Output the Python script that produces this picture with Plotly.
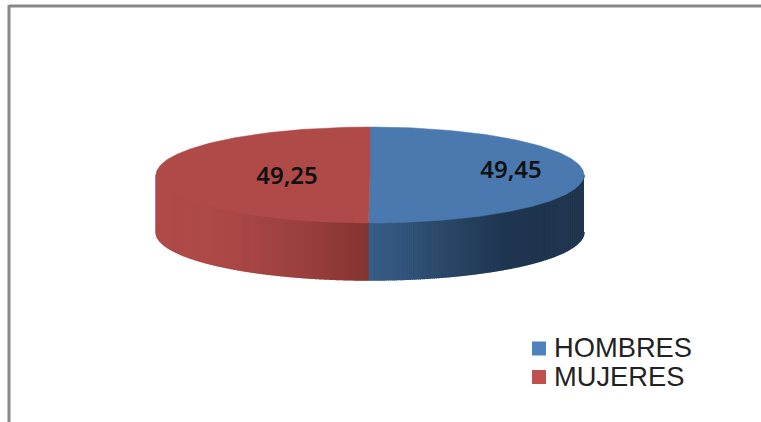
import numpy as np
import plotly.graph_objects as go

categories = ["HOMBRES", "MUJERES"]
values = [49.45, 49.25]
value_labels = ["49,45", "49,25"]
top_colors = ["#4A79AF", "#AF4A48"]
legend_colors = ["#4F81BD", "#C0504D"]
label_x = [511, 287]
label_y = [172, 178]
legend_marker_x = 539
legend_marker_y = [348.5, 377]
legend_text_x = 554
legend_text_y = [350, 379]

W, H = 761, 422
CX, CY, RX, RY, DEPTH = 370, 175, 214, 48, 57

# side shading: (x position, rgb)
side_stops = [
    [(370, (56, 94, 136)), (440, (42, 72, 105)), (510, (31, 53, 80)), (585, (31, 53, 78))],
    [(156, (175, 74, 72)), (225, (172, 72, 70)), (300, (155, 65, 62)), (370, (132, 52, 50))],
]


def px(theta):
    return CX + RX * np.sin(theta)


def py(theta):
    return CY - RY * np.cos(theta)


def shade(stops, x):
    xs = [s[0] for s in stops]
    return "rgb(%d,%d,%d)" % tuple(
        int(round(np.interp(x, xs, [s[1][c] for s in stops]))) for c in range(3)
    )


fig = go.Figure()
total = sum(values)
edges = np.concatenate([[0], np.cumsum(values)]) / total * 2 * np.pi

# visible rim of each wedge, cut into equal-width strips
for i in range(len(values)):
    a0 = max(edges[i], np.pi / 2)
    a1 = min(edges[i + 1], 3 * np.pi / 2)
    x0, x1 = px(a0), px(a1)
    n = int(abs(x1 - x0) / 2)
    cuts = np.pi - np.arcsin(np.clip((np.linspace(x0, x1, n + 1) - CX) / RX, -1, 1))
    cuts[0], cuts[-1] = a0, a1
    for t0, t1 in zip(cuts[:-1], cuts[1:]):
        th = np.linspace(t0, t1, 6)
        xs = np.concatenate([px(th), px(th[::-1])])
        ys = np.concatenate([py(th), py(th[::-1]) + DEPTH])
        col = shade(side_stops[i], float(px((t0 + t1) / 2)))
        fig.add_trace(go.Scatter(x=xs, y=ys, mode="lines", fill="toself", fillcolor=col,
                                 line=dict(color=col, width=1.5, simplify=False), hoverinfo="skip",
                                 showlegend=False))

# top face of each wedge
for i in range(len(values)):
    th = np.linspace(edges[i], edges[i + 1], 200)
    xs = np.concatenate([[CX], px(th), [CX]])
    ys = np.concatenate([[CY], py(th), [CY]])
    fig.add_trace(go.Scatter(x=xs, y=ys, mode="lines", fill="toself", fillcolor=top_colors[i],
                             line=dict(color=top_colors[i], width=0.5), name=categories[i],
                             hoverinfo="skip", showlegend=False))

# value labels
fig.add_trace(go.Scatter(x=label_x, y=label_y, mode="text", text=value_labels,
                         textposition="middle center",
                         textfont=dict(family="Noto Sans", size=24, color="#111111", weight=600),
                         hoverinfo="skip", showlegend=False))

# legend
for i, name in enumerate(categories):
    fig.add_trace(go.Scatter(x=[legend_marker_x], y=[legend_marker_y[i]], mode="markers",
                             marker=dict(symbol="square", size=14, color=legend_colors[i]),
                             hoverinfo="skip", showlegend=False))
    fig.add_trace(go.Scatter(x=[legend_text_x], y=[legend_text_y[i]], mode="text", text=[name],
                             textposition="middle right",
                             textfont=dict(family="Liberation Sans", size=27.3, color="#222222"),
                             hoverinfo="skip", showlegend=False))

fig.update_layout(
    width=W, height=H, autosize=False,
    margin=dict(l=0, r=0, t=0, b=0),
    paper_bgcolor="white", plot_bgcolor="white",
    showlegend=False,
    xaxis=dict(range=[0, W], visible=False, fixedrange=True),
    yaxis=dict(range=[H, 0], visible=False, fixedrange=True),
    shapes=[
        dict(type="line", xref="x", yref="y", x0=9, x1=W, y0=6, y1=6, line=dict(color="#888888", width=3)),
        dict(type="line", xref="x", yref="y", x0=9, x1=9, y0=5, y1=H, line=dict(color="#888888", width=3)),
    ],
)
fig.write_html("out.html", config={"displayModeBar": False},
               post_script="document.body.style.margin='0';document.body.style.overflow='hidden';")
